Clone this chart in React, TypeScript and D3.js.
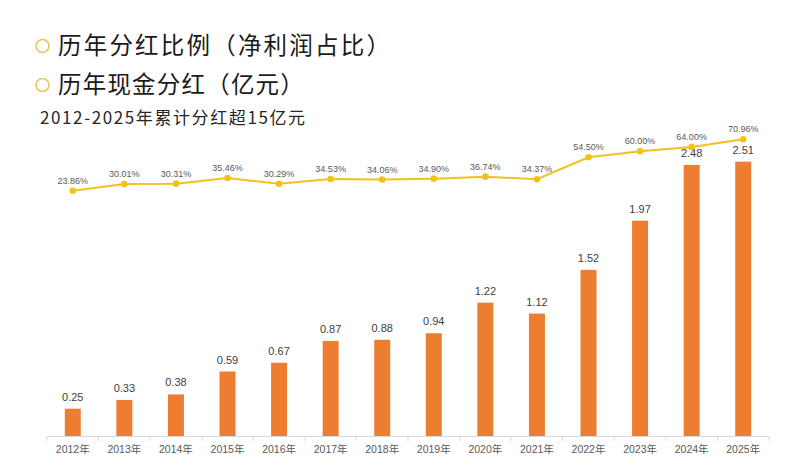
import React from "react";
import * as d3 from "d3";

const years = ["2012年","2013年","2014年","2015年","2016年","2017年","2018年","2019年","2020年","2021年","2022年","2023年","2024年","2025年"];
const dividends = [0.25,0.33,0.38,0.59,0.67,0.87,0.88,0.94,1.22,1.12,1.52,1.97,2.48,2.51];
const payoutRatio = [23.86,30.01,30.31,35.46,30.29,34.53,34.06,34.90,36.74,34.37,54.50,60.00,64.00,70.96];
const titles = ["历年分红比例（净利润占比）","历年现金分红（亿元）"];
const subtitle = "2012-2025年累计分红超15亿元";

export default function App() {
  const W = 800, H = 476;
  const x = d3.scaleBand<string>().domain(years).range([47, 769]).paddingInner(0.69).paddingOuter(0.345);
  const xb = d3.scaleBand<string>().domain(years).range([47, 769]);
  const yBar = d3.scaleLinear().domain([0, 1]).range([436, 326.7]);
  const yLine = d3.scaleLinear().domain([23.86, 70.96]).range([190.7, 139.3]);
  const line = d3.line<number>().x((_, i) => (xb(years[i]) as number) + xb.bandwidth() / 2).y(d => yLine(d));
  const font = "'Liberation Sans', Arial, 'Noto Sans CJK SC', sans-serif";
  return (
    <svg width={W} height={H} style={{ position: "absolute", left: 0, top: 0, background: "#fff" }}>
      {titles.map((t, i) => (
        <g key={t}>
          <circle cx={42.5} cy={46 + i * 39} r={6.5} fill="none" stroke="#E9C75A" strokeWidth={1.6} />
          <text x={58} y={46 + i * 39} dy="0.36em" fontSize={23.5} fontFamily="'Noto Sans CJK SC', sans-serif" fill="#1a1a1a" letterSpacing={i === 0 ? 2.2 : 1.2}>{t}</text>
        </g>
      ))}
      <text x={40} y={118} dy="0.36em" fontSize={17} fontFamily="'Noto Sans CJK SC', sans-serif" fill="#262626" letterSpacing={1.6}>{subtitle}</text>
      {years.map((yr, i) => (
        <g key={yr}>
          <rect x={x(yr)} y={yBar(dividends[i])} width={x.bandwidth()} height={436 - yBar(dividends[i])} fill="#ED7D31" />
          <text x={(x(yr) as number) + x.bandwidth() / 2} y={yBar(dividends[i]) - 8} textAnchor="middle" fontSize={11} fontFamily={font} fill="#404040">{dividends[i].toFixed(2)}</text>
          <text x={(xb(yr) as number) + xb.bandwidth() / 2} y={449} dy="0.36em" textAnchor="middle" fontSize={10.5} fontFamily={font} fill="#595959">{yr}</text>
        </g>
      ))}
      <line x1={47} x2={769} y1={436.5} y2={436.5} stroke="#D9D9D9" strokeWidth={1} />
      {years.concat([""]).map((_, i) => {
        const px = 47 + i * xb.step();
        return <line key={i} x1={px} x2={px} y1={436} y2={441} stroke="#D9D9D9" strokeWidth={1} />;
      })}
      <path d={line(payoutRatio) || ""} fill="none" stroke="#F2C21B" strokeWidth={2} />
      {payoutRatio.map((v, i) => {
        const cx = (xb(years[i]) as number) + xb.bandwidth() / 2;
        return (
          <g key={i}>
            <circle cx={cx} cy={yLine(v)} r={3.3} fill="#F2C21B" />
            <text x={cx} y={yLine(v) - 7} textAnchor="middle" fontSize={9} fontFamily={font} fill="#595959">{v.toFixed(2)}%</text>
          </g>
        );
      })}
    </svg>
  );
}
